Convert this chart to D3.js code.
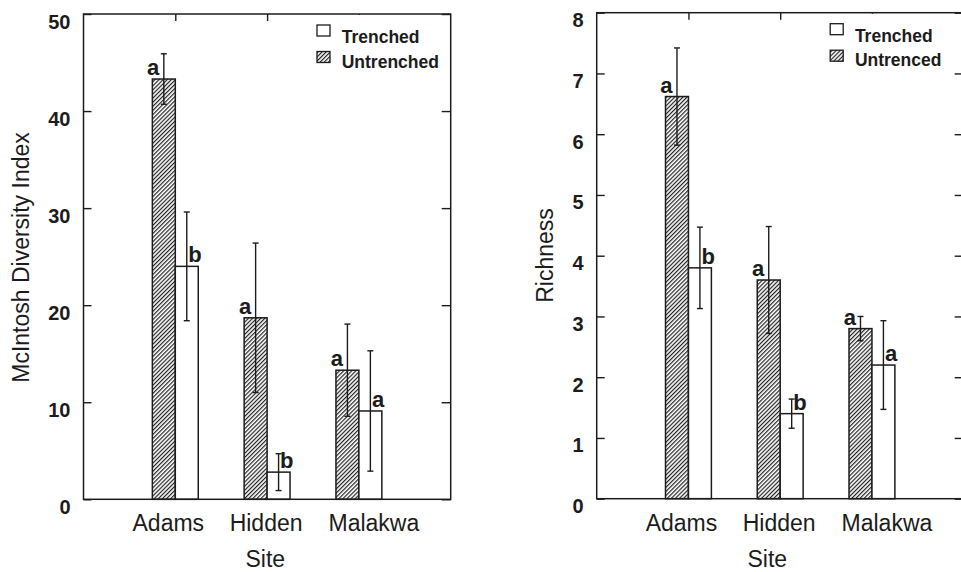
<!DOCTYPE html>
<html>
<head>
<meta charset="utf-8">
<script src="https://cdn.jsdelivr.net/npm/d3@7/dist/d3.min.js"></script>
<style>
  html, body { margin: 0; padding: 0; background: #fff; }
  svg { display: block; }
  text { font-family: "Liberation Sans", Arial, Helvetica, sans-serif; fill: #1c1c1c; }
</style>
</head>
<body>
<svg id="chart" width="961" height="572"></svg>
<script>
// Sites sampled
const sites = ["Adams", "Hidden", "Malakwa"];

// McIntosh diversity index: means, standard errors, significance letters
const diversityUntrenched = [43.3, 18.7, 13.3];
const diversityUntrenchedErr = [2.6, 7.7, 4.75];
const diversityTrenched = [24.0, 2.8, 9.1];
const diversityTrenchedErr = [5.6, 1.9, 6.2];
const diversityUntrenchedLetters = ["a", "a", "a"];
const diversityTrenchedLetters = ["b", "b", "a"];
const diversityTicks = [0, 10, 20, 30, 40, 50];
const diversityLegend = ["Trenched", "Untrenched"];

// Species richness: means, standard errors, significance letters
const richnessUntrenched = [6.62, 3.6, 2.8];
const richnessUntrenchedErr = [0.8, 0.88, 0.2];
const richnessTrenched = [3.8, 1.4, 2.2];
const richnessTrenchedErr = [0.67, 0.24, 0.73];
const richnessUntrenchedLetters = ["a", "a", "a"];
const richnessTrenchedLetters = ["b", "b", "a"];
const richnessTicks = [0, 1, 2, 3, 4, 5, 6, 7, 8];
const richnessLegend = ["Trenched", "Untrenced"];

const INK = "#1c1c1c";
const svg = d3.select("#chart");

// Diagonal hatch used for the untrenched bars
const defs = svg.append("defs");
defs.append("pattern")
  .attr("id", "hatch")
  .attr("patternUnits", "userSpaceOnUse")
  .attr("width", 2.9).attr("height", 2.9)
  .attr("patternTransform", "rotate(45)")
  .call(p => {
    p.append("rect").attr("width", 2.9).attr("height", 2.9).attr("fill", "#fff");
    p.append("line").attr("x1", 0.6).attr("y1", 0).attr("x2", 0.6).attr("y2", 2.9)
      .attr("stroke", "#222").attr("stroke-width", 1.2);
  });

const panels = [
  {
    left: 83.5, top: 14, width: 367.2, height: 485.3,
    yMax: 50, ticks: diversityTicks, title: "McIntosh Diversity Index",
    titleX: 29, titleY: 257.5, siteX: 1.98,
    untr: diversityUntrenched, untrErr: diversityUntrenchedErr, untrLetters: diversityUntrenchedLetters,
    tr: diversityTrenched, trErr: diversityTrenchedErr, trLetters: diversityTrenchedLetters,
    legend: diversityLegend
  },
  {
    left: 596.7, top: 12.7, width: 367, height: 486,
    yMax: 8, ticks: richnessTicks, title: "Richness",
    titleX: 553, titleY: 255.5, siteX: 1.86,
    untr: richnessUntrenched, untrErr: richnessUntrenchedErr, untrLetters: richnessUntrenchedLetters,
    tr: richnessTrenched, trErr: richnessTrenchedErr, trLetters: richnessTrenchedLetters,
    legend: richnessLegend
  }
];

// horizontal nudges of the site names below the axis
const siteLabelNudge = [-7, -1, 15];
const barW = 0.25;   // bar width in x-units

panels.forEach(p => {
  const g = svg.append("g");
  const x = d3.scaleLinear().domain([0, 4]).range([p.left, p.left + p.width]);
  const y = d3.scaleLinear().domain([0, p.yMax]).range([p.top + p.height, p.top]);
  const pos = sites.map((s, i) => i + 1);

  // inward ticks on all four sides
  const left = g.append("g").attr("transform", `translate(${p.left},0)`)
    .call(d3.axisLeft(y).tickValues(p.ticks).tickSizeInner(-8).tickSizeOuter(0).tickPadding(13));
  left.selectAll("text").attr("dy", "0.7em").style("font-size", "20px").style("font-weight", "bold").attr("fill", INK);
  g.append("g").attr("transform", `translate(${p.left + p.width},0)`)
    .call(d3.axisRight(y).tickValues(p.ticks).tickSizeInner(-9).tickSizeOuter(0).tickFormat(""));
  g.append("g").attr("transform", `translate(0,${p.top})`)
    .call(d3.axisTop(x).tickValues(pos).tickSizeInner(-7).tickSizeOuter(0).tickFormat(""));
  g.append("g").attr("transform", `translate(0,${p.top + p.height})`)
    .call(d3.axisBottom(x).tickValues(pos).tickSizeInner(-7).tickSizeOuter(0).tickFormat(""));
  g.selectAll(".domain").remove();
  g.selectAll(".tick line").attr("stroke", INK).attr("stroke-width", 1.4);

  // bars
  const bars = g.append("g");
  sites.forEach((s, i) => {
    const c = pos[i];
    bars.append("rect")
      .attr("x", x(c - barW)).attr("width", x(c) - x(c - barW))
      .attr("y", y(p.untr[i])).attr("height", y(0) - y(p.untr[i]))
      .attr("fill", "url(#hatch)").attr("stroke", INK).attr("stroke-width", 1.5);
    bars.append("rect")
      .attr("x", x(c)).attr("width", x(c + barW) - x(c))
      .attr("y", y(p.tr[i])).attr("height", y(0) - y(p.tr[i]))
      .attr("fill", "#fff").attr("stroke", INK).attr("stroke-width", 1.5);
  });

  // error bars and letters
  const errs = g.append("g").attr("stroke", INK).attr("stroke-width", 1.4).attr("fill", "none");
  const drawErr = (cx, v, e) => {
    errs.append("line").attr("x1", cx).attr("x2", cx).attr("y1", y(v - e)).attr("y2", y(v + e));
    [v - e, v + e].forEach(t =>
      errs.append("line").attr("x1", cx - 3).attr("x2", cx + 3).attr("y1", y(t)).attr("y2", y(t)));
  };
  sites.forEach((s, i) => {
    const c = pos[i];
    const cu = x(c - barW / 2), ct = x(c + barW / 2);
    drawErr(cu, p.untr[i], p.untrErr[i]);
    drawErr(ct, p.tr[i], p.trErr[i]);
    g.append("text").attr("x", cu - 4.5).attr("y", y(p.untr[i]) - 4)
      .attr("text-anchor", "end").style("font-size", "22px").style("font-weight", "bold")
      .text(p.untrLetters[i]);
    g.append("text").attr("x", ct + 1.5).attr("y", y(p.tr[i]) - 4)
      .attr("text-anchor", "start").style("font-size", "22px").style("font-weight", "bold")
      .text(p.trLetters[i]);
  });

  // legend
  const lg = g.append("g");
  lg.append("rect").attr("x", p.left + 226).attr("y", p.top + 1)
    .attr("width", 130).attr("height", 58).attr("fill", "#fff");
  const sw = [{ fill: "#fff" }, { fill: "url(#hatch)" }];
  p.legend.forEach((name, k) => {
    lg.append("rect").attr("x", p.left + 233.5).attr("y", p.top + 11 + k * 26.5)
      .attr("width", 13).attr("height", 11)
      .attr("fill", sw[k].fill).attr("stroke", INK).attr("stroke-width", 1.3);
    lg.append("text").attr("x", p.left + 258.2).attr("y", p.top + 28.8 + k * 24.8)
      .style("font-size", "17.5px").style("font-weight", "bold").text(name);
  });

  // frame
  g.append("rect").attr("x", p.left).attr("y", p.top)
    .attr("width", p.width).attr("height", p.height)
    .attr("fill", "none").attr("stroke", INK).attr("stroke-width", 1.5);

  // site names and axis titles
  sites.forEach((s, i) => {
    g.append("text").attr("x", x(pos[i]) + siteLabelNudge[i]).attr("y", 530.5)
      .attr("text-anchor", "middle").style("font-size", "23px").text(s);
  });
  g.append("text").attr("x", x(p.siteX)).attr("y", 566.5)
    .attr("text-anchor", "middle").style("font-size", "23px").text("Site");
  g.append("text")
    .attr("transform", `translate(${p.titleX},${p.titleY}) rotate(-90)`)
    .attr("text-anchor", "middle").style("font-size", "23px").text(p.title);
});
</script>
</body>
</html>
